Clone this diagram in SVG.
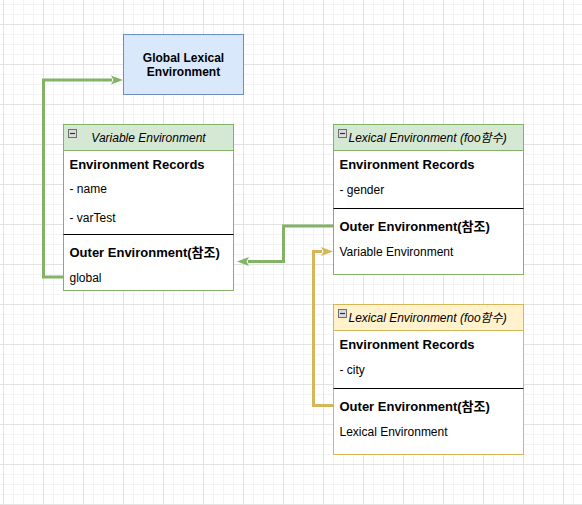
<svg xmlns="http://www.w3.org/2000/svg" width="582" height="505" viewBox="0 0 582 505">
<defs>
<pattern id="grid" patternUnits="userSpaceOnUse" x="3" y="24" width="40" height="40">
<rect width="40" height="40" fill="#ffffff"/>
<path d="M10.5,0V40M20.5,0V40M30.5,0V40M0,10.5H40M0,20.5H40M0,30.5H40" stroke="#f3f3f3" stroke-width="1" fill="none"/>
<path d="M0.5,0V40M0,0.5H40" stroke="#e3e3e3" stroke-width="1" fill="none"/>
</pattern>
<marker id="ag" markerUnits="userSpaceOnUse" markerWidth="14" markerHeight="10" refX="1" refY="5" orient="auto" overflow="visible">
<path d="M0,0.5 L12,5 L0,9.5 L2.5,5 Z" fill="#82b366"/>
</marker>
<marker id="ay" markerUnits="userSpaceOnUse" markerWidth="14" markerHeight="10" refX="1" refY="5" orient="auto" overflow="visible">
<path d="M0,0.5 L12,5 L0,9.5 L2.5,5 Z" fill="#d6b656"/>
</marker>
</defs>
<style>
text{font-family:"Liberation Sans","Noto Sans CJK KR",Arial,sans-serif;fill:#000}
.t{font-size:12px}
.b{font-size:13px;font-weight:bold}
.h{font-size:12px;font-style:italic}
.gb{font-size:12px;font-weight:bold}
.sep{stroke:#000;stroke-width:1}
.ico{fill:#dcdcdc;stroke:#6e6e6e;stroke-width:1}
.icl{stroke:#333;stroke-width:1.2}
.conn{fill:none;stroke-width:3}
</style>
<rect width="582" height="505" fill="url(#grid)"/>

<g id="global-lexical">
<rect x="123.5" y="34.5" width="120" height="60" fill="#dae8fc" stroke="#6c8ebf"/>
<text class="gb" x="183.5" y="62" text-anchor="middle">Global Lexical</text>
<text class="gb" x="183.5" y="76" text-anchor="middle">Environment</text>
</g>

<g id="variable-env">
<rect x="63.5" y="124.5" width="170" height="166" fill="#ffffff" stroke="#82b366"/>
<rect x="63.5" y="124.5" width="170" height="26" fill="#d5e8d4" stroke="#82b366"/>
<rect class="ico" x="68.5" y="129.5" width="8" height="8"/>
<line class="icl" x1="70" y1="133.5" x2="75" y2="133.5"/>
<text class="h" x="148.5" y="142" text-anchor="middle">Variable Environment</text>
<text class="b" x="69.5" y="169">Environment Records</text>
<text class="t" x="69.5" y="193">- name</text>
<text class="t" x="69.5" y="221.5">- varTest</text>
<line class="sep" x1="63.5" y1="234.5" x2="233.5" y2="234.5"/>
<text class="b" x="69.5" y="257">Outer Environment(참조)</text>
<text class="t" x="69.5" y="282">global</text>
</g>

<g id="lexical-foo-1">
<rect x="333.5" y="124.5" width="190" height="150" fill="#ffffff" stroke="#82b366"/>
<rect x="333.5" y="124.5" width="190" height="26" fill="#d5e8d4" stroke="#82b366"/>
<rect class="ico" x="338.5" y="129.5" width="8" height="8"/>
<line class="icl" x1="340" y1="133.5" x2="345" y2="133.5"/>
<text class="h" x="348.5" y="142">Lexical Environment (foo함수)</text>
<text class="b" x="339.5" y="168.5">Environment Records</text>
<text class="t" x="339.5" y="193.5">- gender</text>
<line class="sep" x1="333.5" y1="208.5" x2="523.5" y2="208.5"/>
<text class="b" x="339.5" y="231">Outer Environment(참조)</text>
<text class="t" x="339.5" y="255.5">Variable Environment</text>
</g>

<g id="lexical-foo-2">
<rect x="333.5" y="304.5" width="190" height="150" fill="#ffffff" stroke="#d6b656"/>
<rect x="333.5" y="304.5" width="190" height="26" fill="#fff2cc" stroke="#d6b656"/>
<rect class="ico" x="338.5" y="309.5" width="8" height="8"/>
<line class="icl" x1="340" y1="313.5" x2="345" y2="313.5"/>
<text class="h" x="348.5" y="322">Lexical Environment (foo함수)</text>
<text class="b" x="339.5" y="348.5">Environment Records</text>
<text class="t" x="339.5" y="373.5">- city</text>
<line class="sep" x1="333.5" y1="388.5" x2="523.5" y2="388.5"/>
<text class="b" x="339.5" y="411">Outer Environment(참조)</text>
<text class="t" x="339.5" y="435.5">Lexical Environment</text>
</g>

<g id="connectors">
<path class="conn" stroke="#82b366" d="M63.5,277 H43.5 V80 H112" marker-end="url(#ag)"/>
<path class="conn" stroke="#82b366" d="M333.5,226 H283.5 V261.5 H248" marker-end="url(#ag)"/>
<path class="conn" stroke="#d6b656" d="M333.5,405.5 H313.5 V251.5 H322" marker-end="url(#ay)"/>
</g>
</svg>
